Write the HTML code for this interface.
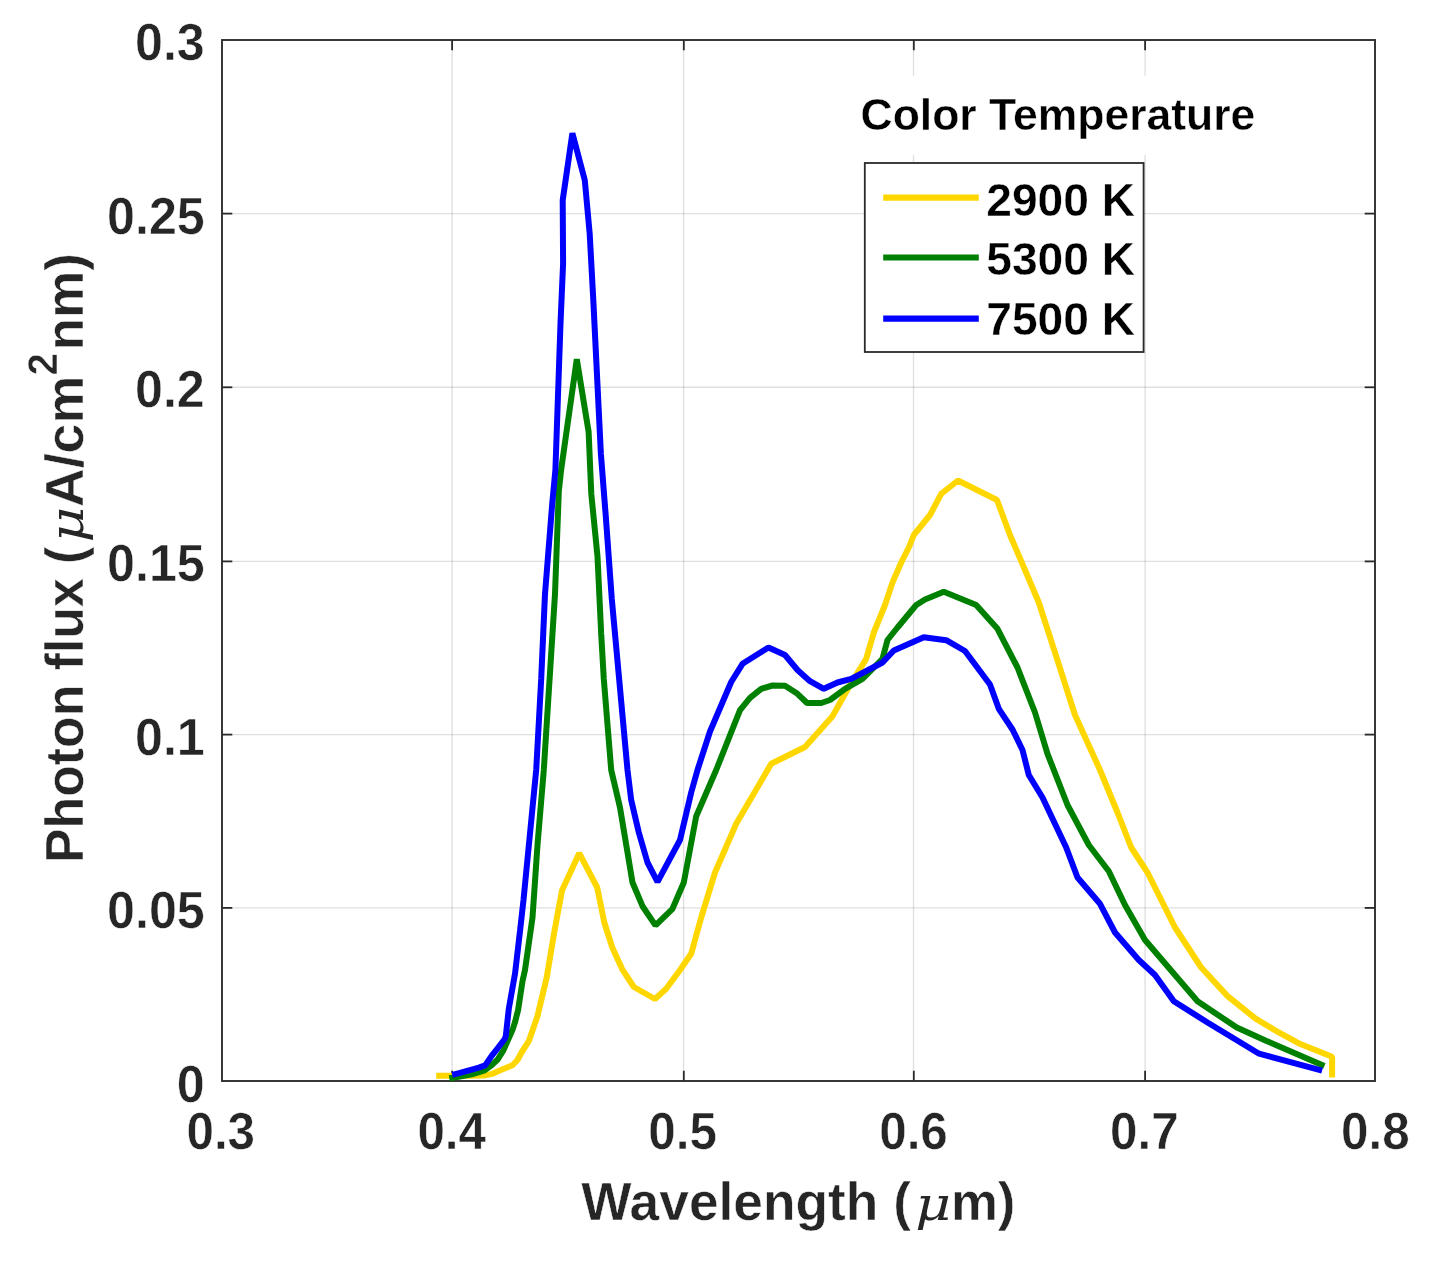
<!DOCTYPE html>
<html lang="en"><head><meta charset="utf-8"><title>Photon flux vs wavelength</title>
<style>html,body{margin:0;padding:0;background:#fff}body{width:1432px;height:1265px;overflow:hidden}svg{display:block;will-change:transform}text{font-family:"Liberation Sans",Arial,Helvetica,sans-serif;font-weight:bold}.tk{fill:#262626;stroke:#fff;stroke-width:.5px;paint-order:fill stroke}.bk{fill:#000;stroke:#fff;stroke-width:.4px;paint-order:fill stroke}.mu{font-family:"DejaVu Serif","Liberation Serif",serif;font-style:italic;font-weight:normal;fill:#262626;stroke:none}</style></head><body>
<svg width="1432" height="1265" viewBox="0 0 1432 1265">
<rect width="1432" height="1265" fill="#fff"/>
<g stroke="#262626" stroke-opacity="0.14"><line x1="452.1" y1="40.0" x2="452.1" y2="1081.0" stroke-width="1.4"/><line x1="683.6" y1="40.0" x2="683.6" y2="1081.0" stroke-width="1.4"/><line x1="913.5" y1="40.0" x2="913.5" y2="1081.0" stroke-width="1.4"/><line x1="1145.1" y1="40.0" x2="1145.1" y2="1081.0" stroke-width="1.4"/><line x1="222.0" y1="907.9" x2="1375.0" y2="907.9" stroke-width="1.4"/><line x1="222.0" y1="734.6" x2="1375.0" y2="734.6" stroke-width="1.4"/><line x1="222.0" y1="561.4" x2="1375.0" y2="561.4" stroke-width="1.4"/><line x1="222.0" y1="387.3" x2="1375.0" y2="387.3" stroke-width="1.4"/><line x1="222.0" y1="213.6" x2="1375.0" y2="213.6" stroke-width="1.4"/></g>
<g stroke="#2a2a2a" stroke-width="1.8"><line x1="452.1" y1="1081.0" x2="452.1" y2="1070.7"/><line x1="452.1" y1="40.0" x2="452.1" y2="50.3"/><line x1="683.8" y1="1081.0" x2="683.8" y2="1070.7"/><line x1="683.8" y1="40.0" x2="683.8" y2="50.3"/><line x1="913.8" y1="1081.0" x2="913.8" y2="1070.7"/><line x1="913.8" y1="40.0" x2="913.8" y2="50.3"/><line x1="1145.1" y1="1081.0" x2="1145.1" y2="1070.7"/><line x1="1145.1" y1="40.0" x2="1145.1" y2="50.3"/><line x1="222.0" y1="907.9" x2="232.3" y2="907.9"/><line x1="1375.0" y1="907.9" x2="1364.7" y2="907.9"/><line x1="222.0" y1="734.6" x2="232.3" y2="734.6"/><line x1="1375.0" y1="734.6" x2="1364.7" y2="734.6"/><line x1="222.0" y1="561.4" x2="232.3" y2="561.4"/><line x1="1375.0" y1="561.4" x2="1364.7" y2="561.4"/><line x1="222.0" y1="387.3" x2="232.3" y2="387.3"/><line x1="1375.0" y1="387.3" x2="1364.7" y2="387.3"/><line x1="222.0" y1="213.6" x2="232.3" y2="213.6"/><line x1="1375.0" y1="213.6" x2="1364.7" y2="213.6"/></g>
<rect x="222.0" y="40.0" width="1153.0" height="1041.0" fill="none" stroke="#2e2e2e" stroke-width="1.9"/>
<g fill="none" stroke-width="6.0" stroke-linejoin="bevel" stroke-linecap="butt">
<polyline stroke="#ffd700" points="436.2,1075.7 470.0,1075.7 484.0,1075.6 492.0,1073.9 500.3,1070.2 512.5,1065.3 517.5,1060.0 521.5,1052.5 528.8,1041.2 537.5,1016.0 546.7,977.5 554.2,932.5 562.0,890.5 579.2,853.2 597.2,887.5 604.3,922.5 612.3,947.5 622.0,968.8 633.8,987.0 655.0,999.0 666.2,988.8 680.0,970.0 691.2,953.8 701.2,917.5 715.0,872.5 736.2,823.8 771.2,763.8 805.0,747.0 832.5,716.2 850.0,685.0 866.2,658.8 873.8,632.5 885.0,605.0 892.5,582.5 901.2,562.5 908.8,547.5 913.8,535.0 930.0,515.0 941.2,493.8 958.0,480.5 997.0,500.0 1010.0,535.0 1025.0,570.0 1038.8,602.5 1053.8,648.8 1075.0,715.0 1100.0,770.0 1117.5,812.5 1131.2,847.5 1147.5,872.5 1175.0,927.5 1201.2,967.5 1227.6,996.1 1255.3,1018.4 1278.3,1032.2 1299.8,1043.8 1332.1,1056.8 1332.1,1077.6"/>
<polyline stroke="#008000" points="449.3,1078.2 460.0,1076.6 471.9,1074.3 483.9,1070.7 491.5,1065.3 497.4,1059.8 503.4,1050.3 507.4,1041.3 512.9,1028.7 515.2,1021.5 518.1,1010.0 522.5,981.2 525.0,970.0 532.5,917.5 537.5,845.0 543.8,770.0 555.0,594.0 558.8,491.5 561.1,470.0 576.8,359.2 588.6,431.7 591.3,494.0 597.5,556.5 601.2,634.0 603.8,679.0 611.2,770.0 620.0,807.5 632.5,882.5 642.5,906.2 655.5,925.4 672.5,908.8 683.8,882.5 696.2,816.2 716.2,770.0 740.0,710.2 750.0,697.8 761.2,688.8 772.5,685.5 785.0,685.8 797.5,693.8 807.0,703.0 821.2,703.0 830.0,700.0 845.0,688.8 862.5,678.8 882.5,658.8 887.5,640.0 897.5,627.5 916.2,605.0 925.0,599.5 943.8,591.8 976.2,605.0 997.5,628.8 1017.5,667.5 1035.0,712.5 1047.5,753.8 1067.5,805.0 1088.8,845.0 1108.8,871.2 1125.0,905.0 1145.0,940.0 1175.0,975.0 1197.5,1001.2 1236.8,1027.6 1266.0,1040.7 1324.4,1066.0"/>
<polyline stroke="#0000ff" points="452.2,1074.8 460.0,1072.8 472.6,1069.3 478.9,1067.6 485.1,1065.4 491.8,1055.6 498.0,1047.8 504.7,1039.0 505.8,1036.0 508.8,1008.8 515.0,973.8 520.0,931.2 523.5,900.0 536.2,770.0 541.2,679.0 545.0,594.0 552.2,504.0 555.4,470.0 560.5,323.5 563.1,263.7 562.7,200.3 572.4,133.2 584.8,180.3 589.7,233.8 593.3,300.0 600.9,454.0 605.8,516.5 611.8,599.0 627.5,770.0 631.2,800.0 638.8,832.5 647.5,862.5 657.5,881.8 680.0,840.0 691.2,792.5 697.5,770.0 710.0,731.5 731.2,682.0 742.5,663.8 768.5,647.5 785.0,655.0 797.5,670.0 810.0,681.2 823.8,688.8 837.5,682.5 851.2,678.8 882.5,662.5 893.8,650.5 923.8,637.2 946.2,640.2 965.0,651.0 990.0,684.5 998.8,708.8 1012.5,729.5 1022.5,750.0 1028.8,775.0 1042.5,797.5 1066.2,847.5 1077.5,877.5 1100.0,903.8 1115.0,932.5 1138.8,960.0 1155.0,975.0 1173.8,1001.2 1207.5,1022.5 1259.1,1053.7 1322.1,1070.6"/>
</g>
<rect x="850" y="75.7" width="420" height="79.1" fill="#fff"/>
<text class="bk" transform="translate(860.50,130.10)" font-size="44.5">Color Temperature</text>
<rect x="864.8" y="163" width="278.8" height="189" fill="#fff" stroke="#2a2a2a" stroke-width="1.8"/>
<line x1="883.2" y1="197.7" x2="978.8" y2="197.7" stroke="#ffd700" stroke-width="6.2"/>
<text class="bk" transform="translate(986.20,215.70) scale(0.9830,1)" font-size="47.0">2900 K</text>
<line x1="883.2" y1="257.5" x2="978.8" y2="257.5" stroke="#008000" stroke-width="6.2"/>
<text class="bk" transform="translate(986.20,275.45) scale(0.9830,1)" font-size="47.0">5300 K</text>
<line x1="883.2" y1="318.7" x2="978.8" y2="318.7" stroke="#0000ff" stroke-width="6.2"/>
<text class="bk" transform="translate(986.20,335.30) scale(0.9830,1)" font-size="47.0">7500 K</text>
<text class="tk" transform="translate(220.75,1149.45) scale(0.9680,1)" font-size="51.0" text-anchor="middle">0.3</text>
<text class="tk" transform="translate(451.70,1149.45) scale(0.9680,1)" font-size="51.0" text-anchor="middle">0.4</text>
<text class="tk" transform="translate(682.60,1149.45) scale(0.9680,1)" font-size="51.0" text-anchor="middle">0.5</text>
<text class="tk" transform="translate(913.50,1149.45) scale(0.9680,1)" font-size="51.0" text-anchor="middle">0.6</text>
<text class="tk" transform="translate(1144.40,1149.45) scale(0.9680,1)" font-size="51.0" text-anchor="middle">0.7</text>
<text class="tk" transform="translate(1375.35,1149.45) scale(0.9680,1)" font-size="51.0" text-anchor="middle">0.8</text>
<text class="tk" transform="translate(204.80,1101.85) scale(0.9850,1)" font-size="51.0" text-anchor="end">0</text>
<text class="tk" transform="translate(204.80,928.18) scale(0.9850,1)" font-size="51.0" text-anchor="end">0.05</text>
<text class="tk" transform="translate(204.80,754.51) scale(0.9850,1)" font-size="51.0" text-anchor="end">0.1</text>
<text class="tk" transform="translate(204.80,580.84) scale(0.9850,1)" font-size="51.0" text-anchor="end">0.15</text>
<text class="tk" transform="translate(204.80,407.17) scale(0.9850,1)" font-size="51.0" text-anchor="end">0.2</text>
<text class="tk" transform="translate(204.80,233.50) scale(0.9850,1)" font-size="51.0" text-anchor="end">0.25</text>
<text class="tk" transform="translate(204.80,59.83) scale(0.9850,1)" font-size="51.0" text-anchor="end">0.3</text>
<text class="tk" y="1219.8"><tspan x="581.30" font-size="54.0" textLength="329.61" lengthAdjust="spacingAndGlyphs">Wavelength (</tspan><tspan class="mu" x="915.30" font-size="46.0" textLength="35.87" lengthAdjust="spacingAndGlyphs">μ</tspan><tspan x="950.90" font-size="54.0" textLength="64.55" lengthAdjust="spacingAndGlyphs">m)</tspan></text>
<text class="tk" transform="translate(83.0,0) rotate(-90)"><tspan x="-862.96" y="0.00" font-size="54.0" textLength="316.31" lengthAdjust="spacingAndGlyphs">Photon flux (</tspan><tspan class="mu" x="-542.40" font-size="46.0" textLength="35.87" lengthAdjust="spacingAndGlyphs">μ</tspan><tspan x="-507.10" font-size="54.0" textLength="131.32" lengthAdjust="spacingAndGlyphs">A/cm</tspan><tspan x="-375.30" y="-26.10" font-size="42.1" textLength="22.13" lengthAdjust="spacingAndGlyphs">2</tspan><tspan x="-350.45" y="0.00" font-size="54.0" textLength="97.30" lengthAdjust="spacingAndGlyphs">nm)</tspan></text>
</svg></body></html>
